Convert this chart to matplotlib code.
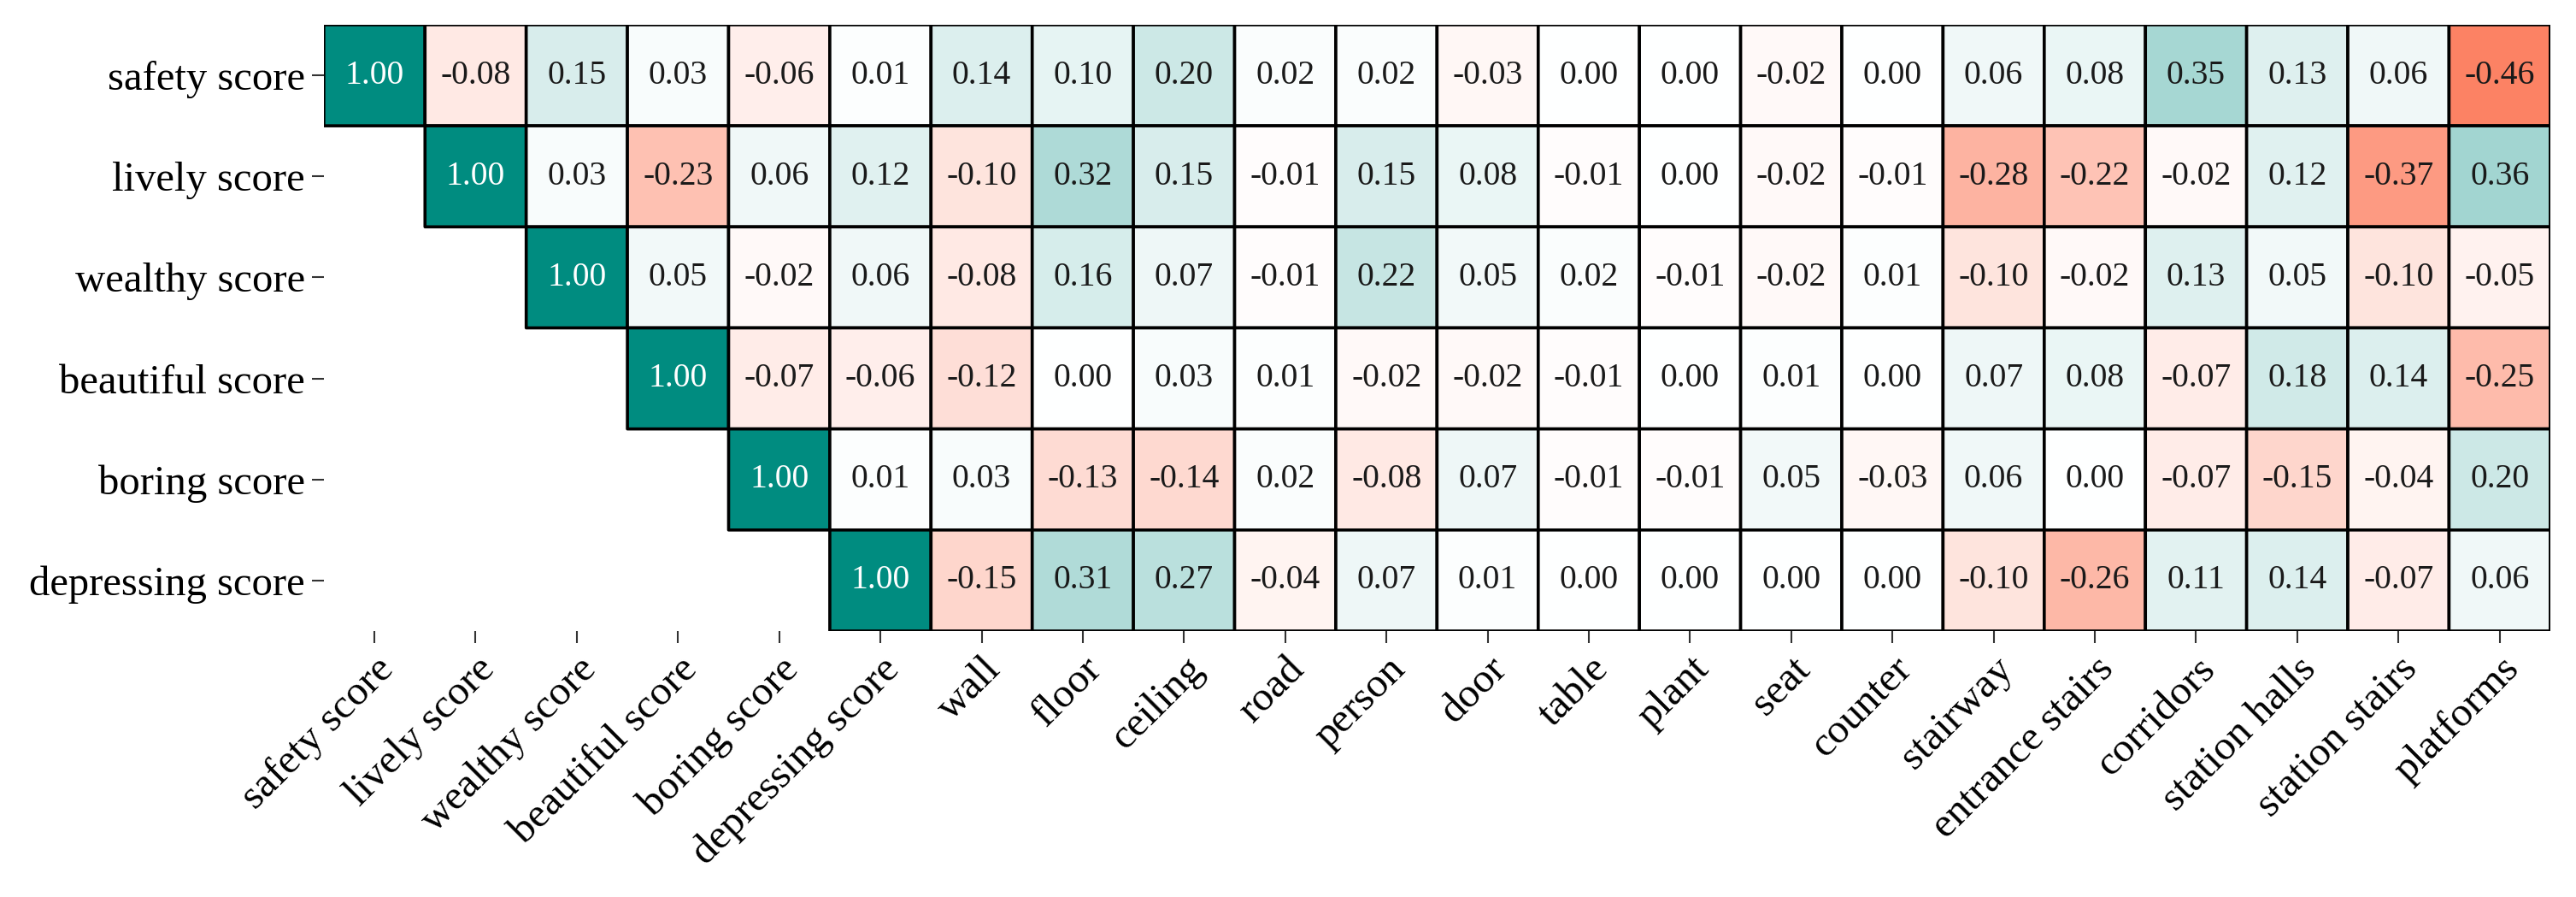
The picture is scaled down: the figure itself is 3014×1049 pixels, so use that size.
import numpy as np
import matplotlib
matplotlib.use('Agg')
import matplotlib.pyplot as plt
from matplotlib.colors import LinearSegmentedColormap, TwoSlopeNorm

plt.rcParams['font.family'] = ['Liberation Serif', 'DejaVu Serif']

# row / column labels
row_labels = ['safety score', 'lively score', 'wealthy score', 'beautiful score',
              'boring score', 'depressing score']
col_labels = row_labels + ['wall', 'floor', 'ceiling', 'road', 'person', 'door', 'table',
                           'plant', 'seat', 'counter', 'stairway', 'entrance stairs',
                           'corridors', 'station halls', 'station stairs', 'platforms']

# correlation values, each row starts at its diagonal
safety = [1.00, -0.08, 0.15, 0.03, -0.06, 0.01, 0.14, 0.10, 0.20, 0.02, 0.02, -0.03, 0.00,
          0.00, -0.02, 0.00, 0.06, 0.08, 0.35, 0.13, 0.06, -0.46]
lively = [1.00, 0.03, -0.23, 0.06, 0.12, -0.10, 0.32, 0.15, -0.01, 0.15, 0.08, -0.01, 0.00,
          -0.02, -0.01, -0.28, -0.22, -0.02, 0.12, -0.37, 0.36]
wealthy = [1.00, 0.05, -0.02, 0.06, -0.08, 0.16, 0.07, -0.01, 0.22, 0.05, 0.02, -0.01,
           -0.02, 0.01, -0.10, -0.02, 0.13, 0.05, -0.10, -0.05]
beautiful = [1.00, -0.07, -0.06, -0.12, 0.00, 0.03, 0.01, -0.02, -0.02, -0.01, 0.00, 0.01,
             0.00, 0.07, 0.08, -0.07, 0.18, 0.14, -0.25]
boring = [1.00, 0.01, 0.03, -0.13, -0.14, 0.02, -0.08, 0.07, -0.01, -0.01, 0.05, -0.03,
          0.06, 0.00, -0.07, -0.15, -0.04, 0.20]
depressing = [1.00, -0.15, 0.31, 0.27, -0.04, 0.07, 0.01, 0.00, 0.00, 0.00, 0.00, -0.10,
              -0.26, 0.11, 0.14, -0.07, 0.06]

rows = [safety, lively, wealthy, beautiful, boring, depressing]
n_rows, n_cols = len(row_labels), len(col_labels)

# pad each row on the left so that the lower triangle is empty
mat = np.full((n_rows, n_cols), np.nan)
for i, r in enumerate(rows):
    mat[i, n_cols - len(r):] = r
data = np.ma.masked_invalid(mat)

cmap = LinearSegmentedColormap.from_list('coral_teal', ['#FC7757', '#FFFFFF', '#008C80'])
norm = TwoSlopeNorm(vmin=-0.5, vcenter=0.0, vmax=1.0)

fig = plt.figure(figsize=(30.14, 10.49), dpi=100)
ax = fig.add_axes([0.1257, 0.2965, 0.8643, 0.6759])

ax.pcolor(data, cmap=cmap, norm=norm, edgecolors='black', linewidth=2.6)
ax.set_xlim(0, n_cols)
ax.set_ylim(n_rows, 0)

for i in range(n_rows):
    for j in range(n_cols):
        if data.mask[i, j]:
            continue
        v = mat[i, j]
        color = 'white' if v > 0.7 else '#1a1a1a'
        ax.text(j + 0.5, i + 0.5, f'{v:.2f}', ha='center', va='center',
                fontsize=28.5, color=color)

ax.set_xticks(np.arange(n_cols) + 0.5)
ax.set_xticklabels(col_labels, rotation=45, ha='right', va='top',
                   rotation_mode='anchor', fontsize=35)
ax.set_yticks(np.arange(n_rows) + 0.5)
ax.set_yticklabels(row_labels, fontsize=35)
ax.tick_params(axis='both', length=10, width=1.5, color='#333333', pad=6)

for s in ax.spines.values():
    s.set_visible(False)

fig.savefig('out.png', dpi=100)
